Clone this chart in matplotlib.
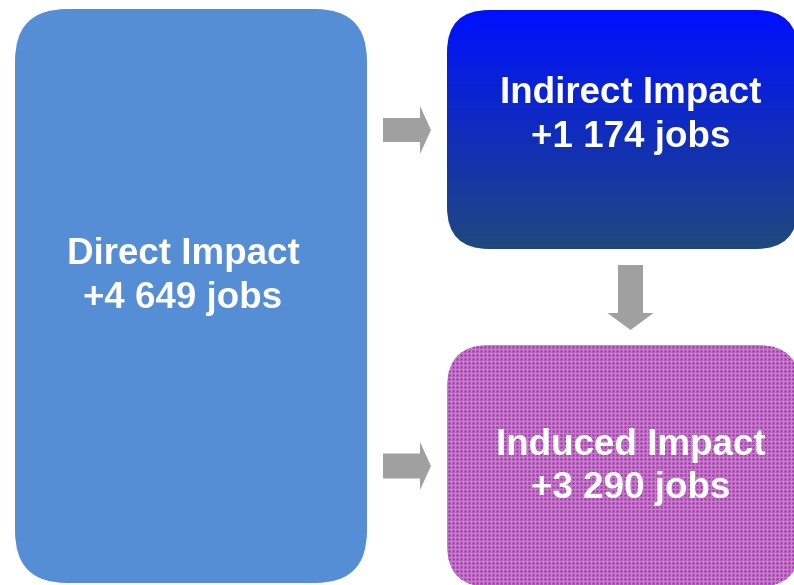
import numpy as np
import matplotlib
matplotlib.use("Agg")
import matplotlib.pyplot as plt
from matplotlib.patches import FancyBboxPatch, FancyArrow

# ---- data ----
impact_names = ["Direct Impact", "Indirect Impact", "Induced Impact"]
impact_jobs = [4649, 1174, 3290]


def fmt_jobs(v):
    return "+" + f"{v:,}".replace(",", " ") + " jobs"


# ---- layout / style (pixel units) ----
W, H = 794, 585
fig = plt.figure(figsize=(W / 100, H / 100), dpi=100)
ax = fig.add_axes([0, 0, 1, 1])
ax.set_xlim(0, W)
ax.set_ylim(H, 0)
ax.axis("off")

boxes = [
    dict(x0=15, y0=9, x1=367, y1=583, r=52),
    dict(x0=447, y0=10, x1=798, y1=249, r=42),
    dict(x0=447, y0=345, x1=800, y1=587, r=42),
]
text_x = [183, 631, 631]
base1 = [264, 103, 455]
base2 = [308, 147, 498]

patches = []
for b in boxes:
    p = FancyBboxPatch((b["x0"], b["y0"]), b["x1"] - b["x0"], b["y1"] - b["y0"],
                       boxstyle=f"round,pad=0,rounding_size={b['r']}",
                       linewidth=0, facecolor="none", edgecolor="none")
    ax.add_patch(p)
    patches.append(p)

# Direct: flat blue
patches[0].set_facecolor("#558ED5")

# Indirect: vertical gradient
b = boxes[1]
top = np.array([0, 16, 255]) / 255
bot = np.array([31, 73, 125]) / 255
t = np.linspace(0, 1, 256)[:, None]
grad = (top[None, :] * (1 - t) + bot[None, :] * t)[:, None, :]
im = ax.imshow(grad, extent=(b["x0"], b["x1"], b["y1"], b["y0"]), origin="upper",
               aspect="auto", interpolation="bilinear", zorder=1)
im.set_clip_path(patches[1])

# Induced: textured purple
b = boxes[2]
hh, ww = int(b["y1"] - b["y0"]), int(b["x1"] - b["x0"])
yy, xx = np.indices((hh, ww))
tex = np.empty((hh, ww, 3))
tex[:] = np.array([176, 92, 182]) / 255
light = ((yy % 4 == 0) | (xx % 4 == 0))
tex[light] = np.array([198, 128, 202]) / 255
dark = (yy % 4 == 2) & (xx % 4 == 2)
tex[dark] = np.array([140, 50, 150]) / 255
im2 = ax.imshow(tex, extent=(b["x0"], b["x1"], b["y1"], b["y0"]), origin="upper",
                aspect="auto", interpolation="nearest", zorder=1)
im2.set_clip_path(patches[2])

# Arrows
grey = "#A0A0A0"
ax.add_patch(FancyArrow(383, 130, 48, 0, width=24, head_width=48, head_length=11,
                        length_includes_head=True, color=grey, linewidth=0, zorder=2))
ax.add_patch(FancyArrow(383, 466, 48, 0, width=25, head_width=48, head_length=11,
                        length_includes_head=True, color=grey, linewidth=0, zorder=2))
ax.add_patch(FancyArrow(630.5, 265, 0, 65, width=25, head_width=46, head_length=17,
                        length_includes_head=True, color=grey, linewidth=0, zorder=2))

# Text
for name, jobs, x, y1, y2 in zip(impact_names, impact_jobs, text_x, base1, base2):
    ax.text(x, y1, name, ha="center", va="baseline", color="white",
            fontsize=26.5, fontweight="bold", family="Liberation Sans", zorder=3)
    ax.text(x, y2, fmt_jobs(jobs), ha="center", va="baseline", color="white",
            fontsize=26.5, fontweight="bold", family="Liberation Sans", zorder=3)

fig.savefig("out.png", dpi=100)
